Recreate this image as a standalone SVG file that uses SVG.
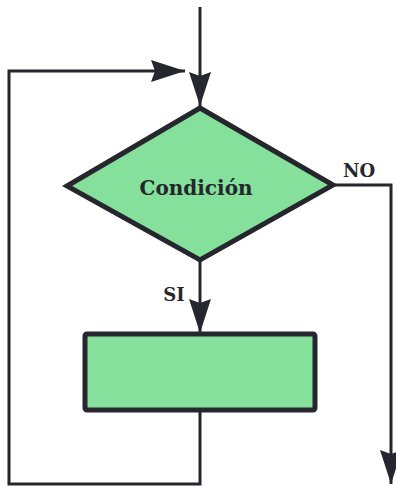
<svg xmlns="http://www.w3.org/2000/svg" width="396" height="486" viewBox="0 0 396 486">
<style>
.ln{fill:none;stroke:#26262e;stroke-width:3}
.shape{fill:#84e09a;stroke:#26262e;stroke-width:5;stroke-linejoin:miter}
.lbl{font-family:"DejaVu Serif","Liberation Serif",serif;font-weight:bold;fill:#26262e}
</style>
<defs>
<marker id="ah" viewBox="0 0 34 22" refX="34" refY="11" markerWidth="34" markerHeight="22" markerUnits="userSpaceOnUse" orient="auto">
<path d="M0,0 L34,11 L0,22 L4,11 Z" fill="#26262e"/>
</marker>
</defs>
<rect width="396" height="486" fill="#ffffff"/>
<g id="connectors">
<path class="ln" d="M200,7 V106" marker-end="url(#ah)"/>
<path class="ln" d="M200,411 V484 H9 V71 H185" marker-end="url(#ah)"/>
<path class="ln" d="M333,185 H391 V484" marker-end="url(#ah)"/>
<path class="ln" d="M200,260 V333" marker-end="url(#ah)"/>
</g>
<g id="decision">
<polygon class="shape" points="200,108 333,185 200,260 67,186"/>
<text class="lbl" x="196" y="195" font-size="20" text-anchor="middle">Condición</text>
</g>
<g id="process">
<rect class="shape" x="85" y="334" width="230" height="76" rx="2"/>
</g>
<g id="labels">
<text class="lbl" x="359" y="177" font-size="18" text-anchor="middle">NO</text>
<text class="lbl" x="174" y="301" font-size="18" text-anchor="middle">SI</text>
</g>
</svg>
